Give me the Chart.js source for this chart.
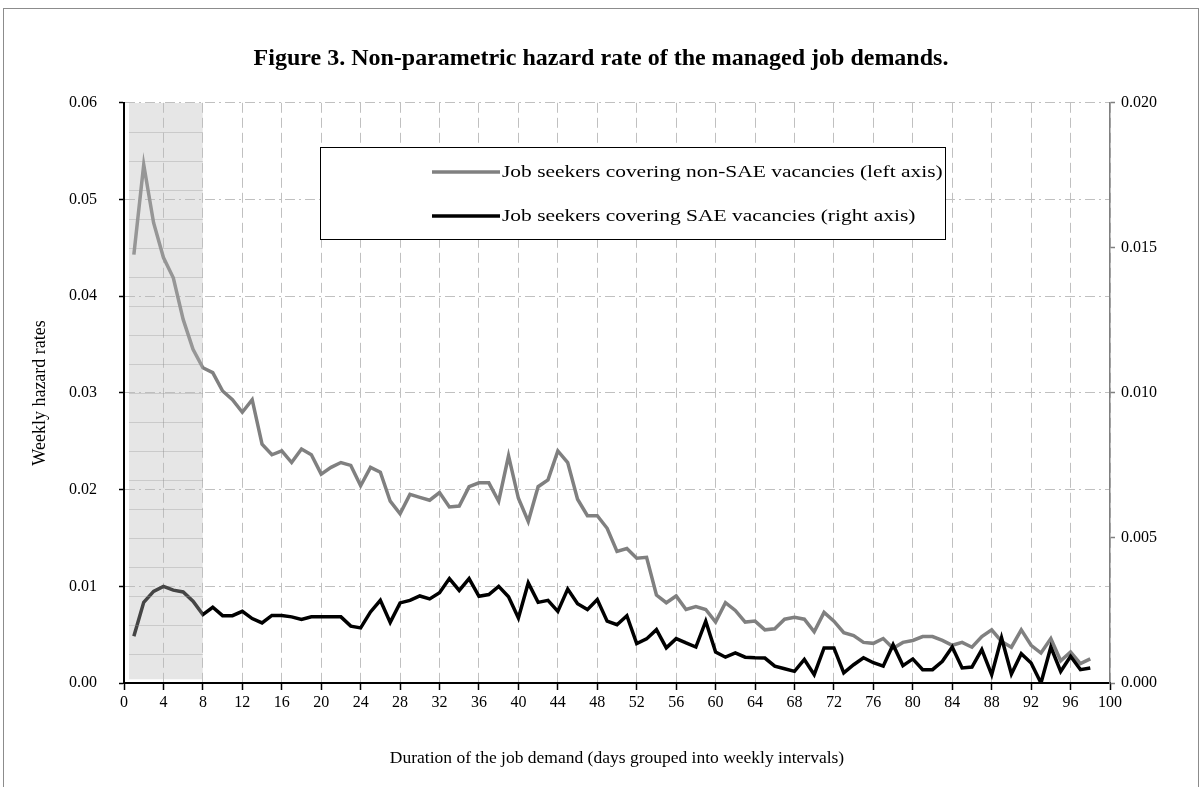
<!DOCTYPE html>
<html>
<head>
<meta charset="utf-8">
<title>Hazard rate</title>
<script src="https://cdn.jsdelivr.net/npm/chart.js@4.4.0/dist/chart.umd.min.js"></script>
<style>
    html, body { margin: 0; padding: 0; background: #fff; }
    #wrap { position: relative; width: 1202px; height: 787px; overflow: hidden; }
    #frame { position: absolute; left: 3px; top: 8px; width: 1194px; height: 800px; border: 1px solid #8c8c8c; pointer-events: none; }
    canvas { position: absolute; left: 0; top: 0; }
</style>
</head>
<body>
<div id="wrap">
    <canvas id="hazardChart" width="1202" height="787"></canvas>
    <div id="frame"></div>
</div>
<script>
// Semanas (duración agrupada en intervalos semanales)
const weeks = Array.from({ length: 98 }, (_, i) => i + 1);

// Tasa de riesgo: vacantes no-SAE (eje izquierdo)
const nonSaeRates = [
    0.0443, 0.0536, 0.0476, 0.0440, 0.0419, 0.0376, 0.0345, 0.0326, 0.0321, 0.0302,
    0.0293, 0.0280, 0.0293, 0.0247, 0.0236, 0.0240, 0.0228, 0.0242, 0.0236, 0.0216,
    0.0223, 0.0228, 0.0225, 0.0204, 0.0223, 0.0218, 0.0188, 0.0175, 0.0195, 0.0192,
    0.0189, 0.0197, 0.0182, 0.0183, 0.0203, 0.0207, 0.0207, 0.0188, 0.0235, 0.0191,
    0.0167, 0.0203, 0.0210, 0.0240, 0.0228, 0.0190, 0.0173, 0.0173, 0.0160, 0.0136,
    0.0139, 0.0129, 0.0130, 0.0091, 0.0083, 0.0090, 0.0076, 0.0079, 0.0076, 0.0063,
    0.0083, 0.0075, 0.0063, 0.0064, 0.0055, 0.0056, 0.0066, 0.0068, 0.0066, 0.0053,
    0.0073, 0.0064, 0.0052, 0.0049, 0.0042, 0.0041, 0.0046, 0.0036, 0.0042, 0.0044,
    0.0048, 0.0048, 0.0044, 0.0039, 0.0042, 0.0037, 0.0048, 0.0055, 0.0043, 0.0037,
    0.0055, 0.0039, 0.0031, 0.0046, 0.0023, 0.0032, 0.0020, 0.0025
];

// Tasa de riesgo: vacantes SAE (eje derecho)
const saeRates = [
    0.00161, 0.00278, 0.00316, 0.00333, 0.00320, 0.00314, 0.00282, 0.00236, 0.00261, 0.00232,
    0.00232, 0.00247, 0.00222, 0.00207, 0.00233, 0.00233, 0.00228, 0.00219, 0.00228, 0.00228,
    0.00228, 0.00228, 0.00196, 0.00190, 0.00245, 0.00285, 0.00209, 0.00276, 0.00285, 0.00300,
    0.00290, 0.00311, 0.00360, 0.00319, 0.00360, 0.00299, 0.00305, 0.00333, 0.00297, 0.00224,
    0.00345, 0.00278, 0.00285, 0.00247, 0.00324, 0.00273, 0.00253, 0.00288, 0.00213, 0.00201,
    0.00232, 0.00136, 0.00152, 0.00184, 0.00121, 0.00153, 0.00138, 0.00124, 0.00213, 0.00107,
    0.00089, 0.00104, 0.00089, 0.00087, 0.00086, 0.00058, 0.00049, 0.00040, 0.00081, 0.00029,
    0.00121, 0.00121, 0.00035, 0.00063, 0.00087, 0.00070, 0.00058, 0.00132, 0.00060, 0.00083,
    0.00046, 0.00046, 0.00075, 0.00124, 0.00052, 0.00055, 0.00115, 0.00029, 0.00156, 0.00031,
    0.00101, 0.00069, 0.00000, 0.00124, 0.00040, 0.00092, 0.00046, 0.00052
];

// Franja sombreada de las primeras semanas
const shadeWeeks = [0.5, 8];
const shadeTop = 0.06;

const serif = "'Liberation Serif', 'Times New Roman', serif";

// Líneas tenues dentro de la franja sombreada
const shadeLines = {
    id: 'shadeLines',
    afterDatasetsDraw(chart) {
        const { ctx, scales: { x, y1 } } = chart;
        const x0 = x.getPixelForValue(shadeWeeks[0]);
        const x1 = x.getPixelForValue(shadeWeeks[1]);
        ctx.save();
        ctx.strokeStyle = 'rgba(150,150,150,0.35)';
        ctx.lineWidth = 1;
        for (let v = 0.001; v < 0.0199; v += 0.001) {
            const py = Math.round(y1.getPixelForValue(v)) + 0.5;
            ctx.beginPath();
            ctx.moveTo(x0, py);
            ctx.lineTo(x1, py);
            ctx.stroke();
        }
        ctx.restore();
    }
};

// Leyenda en recuadro dentro del área del gráfico (texto algo ensanchado)
const boxLegend = {
    id: 'boxLegend',
    afterDraw(chart) {
        const ctx = chart.ctx;
        const box = { left: 320, top: 147, right: 945, bottom: 239 };
        ctx.save();
        ctx.fillStyle = '#fff';
        ctx.fillRect(box.left, box.top, box.right - box.left, box.bottom - box.top);
        ctx.strokeStyle = '#000';
        ctx.lineWidth = 1;
        ctx.strokeRect(box.left + 0.5, box.top + 0.5, box.right - box.left, box.bottom - box.top);
        const rows = [172, 216];
        [0, 1].forEach((i, k) => {
            const ds = chart.data.datasets[i];
            ctx.strokeStyle = ds.borderColor;
            ctx.lineWidth = ds.borderWidth;
            ctx.beginPath();
            ctx.moveTo(432, rows[k]);
            ctx.lineTo(500, rows[k]);
            ctx.stroke();
            ctx.save();
            ctx.translate(502, rows[k] + 1);
            ctx.scale(1.3, 1);
            ctx.fillStyle = '#000';
            ctx.font = '16.5px ' + serif;
            ctx.textBaseline = 'middle';
            ctx.fillText(ds.label, 0, 0);
            ctx.restore();
        });
        ctx.restore();
    }
};

new Chart(document.getElementById('hazardChart').getContext('2d'), {
    type: 'line',
    data: {
        datasets: [
            {
                label: 'Job seekers covering non-SAE vacancies (left axis)',
                data: weeks.map((w, i) => ({ x: w, y: nonSaeRates[i] })),
                borderColor: '#808080',
                borderWidth: 3.5,
                pointRadius: 0,
                tension: 0,
                yAxisID: 'y',
                order: 2
            },
            {
                label: 'Job seekers covering SAE vacancies (right axis)',
                data: weeks.map((w, i) => ({ x: w, y: saeRates[i] })),
                borderColor: '#000000',
                borderWidth: 3.5,
                pointRadius: 0,
                tension: 0,
                yAxisID: 'y1',
                order: 1
            },
            {
                label: 'shade',
                data: shadeWeeks.map(w => ({ x: w, y: shadeTop })),
                borderWidth: 0,
                pointRadius: 0,
                backgroundColor: 'rgba(186,186,186,0.37)',
                fill: { value: 0.0004 },
                yAxisID: 'y',
                order: 0
            }
        ]
    },
    options: {
        responsive: false,
        animation: false,
        devicePixelRatio: 1,
        layout: { padding: { left: 0, right: 0, top: 0, bottom: 0 } },
        plugins: {
            legend: { display: false },
            tooltip: { enabled: false },
            title: {
                display: true,
                text: 'Figure 3. Non-parametric hazard rate of the managed job demands.',
                color: '#000',
                font: { family: serif, size: 24, weight: 'bold' },
                padding: { top: 44, bottom: 30 }
            }
        },
        scales: {
            x: {
                type: 'linear',
                min: 0,
                max: 100,
                afterFit: s => { s.height = 104; },
                ticks: {
                    stepSize: 4,
                    color: '#000',
                    padding: 3,
                    maxRotation: 0,
                    font: { family: serif, size: 16 }
                },
                grid: {
                    color: '#c0c0c0',
                    lineWidth: 1,
                    tickLength: 7,
                    tickColor: '#000',
                    tickWidth: 1.5,
                    tickBorderDash: []
                },
                border: { display: true, color: '#000', width: 2, dash: [10, 5] },
                title: {
                    display: true,
                    text: 'Duration of the job demand (days grouped into weekly intervals)',
                    color: '#000',
                    font: { family: serif, size: 17.5 },
                    padding: { top: 0, bottom: 18 }
                }
            },
            y: {
                position: 'left',
                min: 0,
                max: 0.06,
                afterFit: s => { s.width = 124; },
                ticks: {
                    stepSize: 0.01,
                    color: '#000',
                    padding: 22,
                    font: { family: serif, size: 16 },
                    callback: v => v.toFixed(2)
                },
                grid: {
                    color: '#c0c0c0',
                    lineWidth: 1,
                    tickLength: 5,
                    tickColor: '#000',
                    tickWidth: 1.5,
                    tickBorderDash: []
                },
                border: { display: true, color: '#000', width: 2, dash: [10, 4, 2, 4] },
                title: {
                    display: true,
                    text: 'Weekly hazard rates',
                    color: '#000',
                    font: { family: serif, size: 18 },
                    padding: { top: 29, bottom: 0 }
                }
            },
            y1: {
                position: 'right',
                min: 0,
                max: 0.02,
                afterFit: s => { s.width = 92; },
                ticks: {
                    stepSize: 0.005,
                    color: '#000',
                    padding: 6,
                    font: { family: serif, size: 16 },
                    callback: v => v.toFixed(3)
                },
                grid: {
                    drawOnChartArea: false,
                    tickLength: 5,
                    tickColor: '#808080',
                    tickWidth: 1.5,
                    tickBorderDash: []
                },
                border: { display: true, color: '#808080', width: 1.5 }
            }
        }
    },
    plugins: [shadeLines, boxLegend]
});
</script>
</body>
</html>
